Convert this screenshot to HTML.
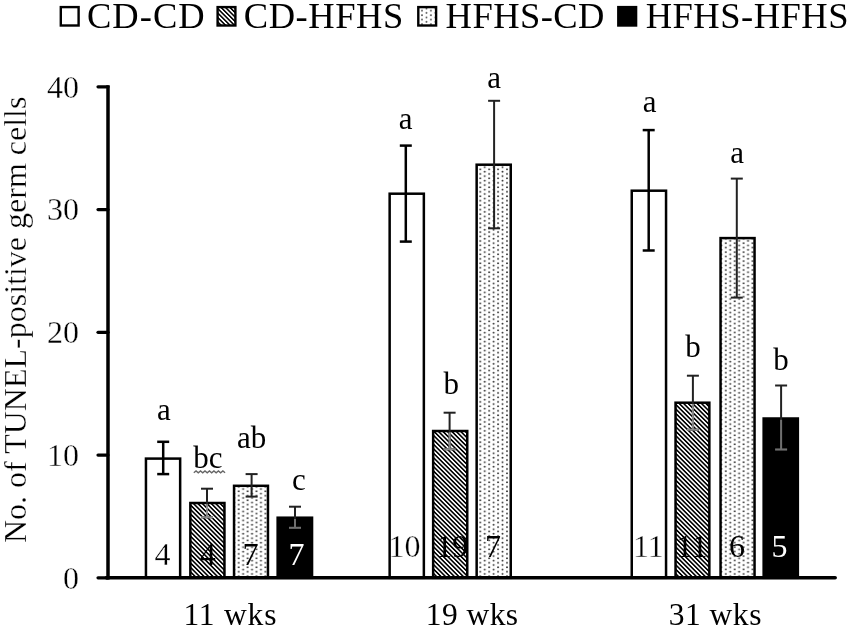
<!DOCTYPE html>
<html><head><meta charset="utf-8"><style>
html,body{margin:0;padding:0;background:#fff;}
svg{display:block;will-change:transform;}
text{font-family:"Liberation Serif",serif;}
.th{stroke:#fff;stroke-width:0.3px;}
</style></head><body>
<svg width="850" height="629" viewBox="0 0 850 629">
<defs>

<pattern id="hatch1" patternUnits="userSpaceOnUse" y="-0.45" width="3.15" height="3.15" patternTransform="rotate(45)"><rect width="3.15" height="3.15" fill="#000"/><rect x="0" y="0" width="3.15" height="1.55" fill="#fff"/></pattern>
<pattern id="hatch2" patternUnits="userSpaceOnUse" y="-1.03" width="3.15" height="3.15" patternTransform="rotate(45)"><rect width="3.15" height="3.15" fill="#000"/><rect x="0" y="0" width="3.15" height="1.55" fill="#fff"/></pattern>
<pattern id="hatch3" patternUnits="userSpaceOnUse" y="1.12" width="3.15" height="3.15" patternTransform="rotate(45)"><rect width="3.15" height="3.15" fill="#000"/><rect x="0" y="0" width="3.15" height="1.55" fill="#fff"/></pattern>
<pattern id="hatchL" patternUnits="userSpaceOnUse" y="0.92" width="3.15" height="3.15" patternTransform="rotate(45)"><rect width="3.15" height="3.15" fill="#000"/><rect x="0" y="0" width="3.15" height="1.6" fill="#fff"/></pattern>
<pattern id="dots" patternUnits="userSpaceOnUse" x="-1.00" y="-1.12" width="8.9" height="4.47"><circle cx="1" cy="1.1175" r="1.0" fill="#333"/><circle cx="5.45" cy="3.3525" r="1.0" fill="#333"/></pattern>
<pattern id="dots1" patternUnits="userSpaceOnUse" x="237.70" y="490.18" width="8.9" height="4.47"><circle cx="1" cy="1.1175" r="1.0" fill="#333"/><circle cx="5.45" cy="3.3525" r="1.0" fill="#333"/></pattern>
<pattern id="dots2" patternUnits="userSpaceOnUse" x="479.30" y="204.08" width="8.9" height="4.47"><circle cx="1" cy="1.1175" r="1.0" fill="#333"/><circle cx="5.45" cy="3.3525" r="1.0" fill="#333"/></pattern>
<pattern id="dots3" patternUnits="userSpaceOnUse" x="724.80" y="250.98" width="8.9" height="4.47"><circle cx="1" cy="1.1175" r="1.0" fill="#333"/><circle cx="5.45" cy="3.3525" r="1.0" fill="#333"/></pattern>
<pattern id="dotsL" patternUnits="userSpaceOnUse" x="421.00" y="9.58" width="8.9" height="4.47"><circle cx="1" cy="1.1175" r="0.95" fill="#444"/><circle cx="5.45" cy="3.3525" r="0.95" fill="#444"/></pattern>
</defs>


<rect x="145.95" y="458.60" width="34.20" height="119.20" fill="#fff" stroke="#000" stroke-width="2.5"/>
<rect x="190.35" y="503.00" width="34.10" height="74.80" fill="url(#hatch1)" stroke="#000" stroke-width="2.5"/>
<rect x="234.05" y="485.80" width="33.90" height="92.00" fill="url(#dots1)" stroke="#000" stroke-width="2.5"/>
<rect x="277.65" y="517.70" width="34.40" height="60.10" fill="#000" stroke="#000" stroke-width="2.5"/>
<rect x="389.65" y="193.70" width="34.20" height="384.10" fill="#fff" stroke="#000" stroke-width="2.5"/>
<rect x="433.15" y="431.00" width="34.10" height="146.80" fill="url(#hatch2)" stroke="#000" stroke-width="2.5"/>
<rect x="476.65" y="164.70" width="34.10" height="413.10" fill="url(#dots2)" stroke="#000" stroke-width="2.5"/>
<rect x="631.75" y="190.70" width="34.30" height="387.10" fill="#fff" stroke="#000" stroke-width="2.5"/>
<rect x="675.55" y="402.70" width="33.80" height="175.10" fill="url(#hatch3)" stroke="#000" stroke-width="2.5"/>
<rect x="720.55" y="238.10" width="34.00" height="339.70" fill="url(#dots3)" stroke="#000" stroke-width="2.5"/>
<rect x="763.65" y="418.50" width="34.20" height="159.30" fill="#000" stroke="#000" stroke-width="2.5"/>
<g stroke="#000" stroke-width="2.5" fill="none"><line x1="163.2" y1="441.8" x2="163.2" y2="474.1"/><line x1="157.2" y1="441.8" x2="169.2" y2="441.8"/><line x1="157.2" y1="474.1" x2="169.2" y2="474.1"/></g>
<g stroke="#222" stroke-width="2.0" fill="none"><line x1="207.0" y1="488.7" x2="207.0" y2="517.3"/><line x1="201.0" y1="488.7" x2="213.0" y2="488.7"/><line x1="201.0" y1="517.3" x2="213.0" y2="517.3"/></g>
<g stroke="#8a8a8a" stroke-width="2.0" fill="none"><line x1="207.0" y1="504.30" x2="207.0" y2="517.3"/><line x1="201.0" y1="517.3" x2="213.0" y2="517.3"/></g>
<g stroke="#222" stroke-width="2.0" fill="none"><line x1="251.6" y1="474.1" x2="251.6" y2="496.6"/><line x1="245.6" y1="474.1" x2="257.6" y2="474.1"/><line x1="245.6" y1="496.6" x2="257.6" y2="496.6"/></g>
<g stroke="#222" stroke-width="2.0" fill="none"><line x1="295.0" y1="506.7" x2="295.0" y2="527.8"/><line x1="289.0" y1="506.7" x2="301.0" y2="506.7"/><line x1="289.0" y1="527.8" x2="301.0" y2="527.8"/></g>
<g stroke="#707070" stroke-width="2.0" fill="none"><line x1="295.0" y1="519.00" x2="295.0" y2="527.8"/><line x1="289.0" y1="527.8" x2="301.0" y2="527.8"/></g>
<g stroke="#000" stroke-width="2.5" fill="none"><line x1="405.8" y1="145.6" x2="405.8" y2="241.6"/><line x1="399.8" y1="145.6" x2="411.8" y2="145.6"/><line x1="399.8" y1="241.6" x2="411.8" y2="241.6"/></g>
<g stroke="#222" stroke-width="2.0" fill="none"><line x1="449.6" y1="412.7" x2="449.6" y2="449.3"/><line x1="443.6" y1="412.7" x2="455.6" y2="412.7"/><line x1="443.6" y1="449.3" x2="455.6" y2="449.3"/></g>
<g stroke="#8a8a8a" stroke-width="2.0" fill="none"><line x1="449.6" y1="432.30" x2="449.6" y2="449.3"/><line x1="443.6" y1="449.3" x2="455.6" y2="449.3"/></g>
<g stroke="#222" stroke-width="2.0" fill="none"><line x1="494.1" y1="100.8" x2="494.1" y2="228.3"/><line x1="488.1" y1="100.8" x2="500.1" y2="100.8"/><line x1="488.1" y1="228.3" x2="500.1" y2="228.3"/></g>
<g stroke="#000" stroke-width="2.5" fill="none"><line x1="648.7" y1="130.1" x2="648.7" y2="250.5"/><line x1="642.7" y1="130.1" x2="654.7" y2="130.1"/><line x1="642.7" y1="250.5" x2="654.7" y2="250.5"/></g>
<g stroke="#222" stroke-width="2.0" fill="none"><line x1="692.9" y1="375.7" x2="692.9" y2="429.7"/><line x1="686.9" y1="375.7" x2="698.9" y2="375.7"/><line x1="686.9" y1="429.7" x2="698.9" y2="429.7"/></g>
<g stroke="#8a8a8a" stroke-width="2.0" fill="none"><line x1="692.9" y1="404.00" x2="692.9" y2="429.7"/><line x1="686.9" y1="429.7" x2="698.9" y2="429.7"/></g>
<g stroke="#222" stroke-width="2.0" fill="none"><line x1="736.8" y1="178.6" x2="736.8" y2="297.6"/><line x1="730.8" y1="178.6" x2="742.8" y2="178.6"/><line x1="730.8" y1="297.6" x2="742.8" y2="297.6"/></g>
<g stroke="#222" stroke-width="2.0" fill="none"><line x1="781.1" y1="385.5" x2="781.1" y2="449.5"/><line x1="775.1" y1="385.5" x2="787.1" y2="385.5"/><line x1="775.1" y1="449.5" x2="787.1" y2="449.5"/></g>
<g stroke="#707070" stroke-width="2.0" fill="none"><line x1="781.1" y1="419.80" x2="781.1" y2="449.5"/><line x1="775.1" y1="449.5" x2="787.1" y2="449.5"/></g>
<line x1="108" y1="85.3" x2="108" y2="579.5" stroke="#000" stroke-width="3.5"/>
<line x1="106.3" y1="577.8" x2="835.2" y2="577.8" stroke="#000" stroke-width="3.5" stroke-linecap="round"/>
<line x1="98" y1="577.80" x2="108" y2="577.80" stroke="#000" stroke-width="3.2" stroke-linecap="round"/>
<text x="79" y="588.60" font-size="32" text-anchor="end" class="th">0</text>
<line x1="98" y1="455.05" x2="108" y2="455.05" stroke="#000" stroke-width="3.2" stroke-linecap="round"/>
<text x="79" y="465.85" font-size="32" text-anchor="end" class="th">10</text>
<line x1="98" y1="332.30" x2="108" y2="332.30" stroke="#000" stroke-width="3.2" stroke-linecap="round"/>
<text x="79" y="343.10" font-size="32" text-anchor="end" class="th">20</text>
<line x1="98" y1="209.55" x2="108" y2="209.55" stroke="#000" stroke-width="3.2" stroke-linecap="round"/>
<text x="79" y="220.35" font-size="32" text-anchor="end" class="th">30</text>
<line x1="98" y1="86.80" x2="108" y2="86.80" stroke="#000" stroke-width="3.2" stroke-linecap="round"/>
<text x="79" y="97.60" font-size="32" text-anchor="end" class="th">40</text>
<text transform="translate(25.7,543) rotate(-90)" font-size="32" class="th">No. of TUNEL-positive germ cells</text>
<text x="183.4" y="624.5" font-size="31.5" textLength="93" lengthAdjust="spacing">11 wks</text>
<text x="425.8" y="624.5" font-size="31.5" textLength="92.3" lengthAdjust="spacing">19 wks</text>
<text x="668.7" y="624.5" font-size="31.5" textLength="92.7" lengthAdjust="spacing">31 wks</text>
<text x="164" y="419.7" font-size="31" text-anchor="middle">a</text>
<text x="208" y="468.4" font-size="31" text-anchor="middle">bc</text>
<text x="251.6" y="448.3" font-size="31" text-anchor="middle">ab</text>
<text x="298.9" y="489.5" font-size="31" text-anchor="middle">c</text>
<text x="405.6" y="128.5" font-size="31" text-anchor="middle">a</text>
<text x="451.2" y="393.5" font-size="31" text-anchor="middle">b</text>
<text x="494.1" y="88.2" font-size="31" text-anchor="middle">a</text>
<text x="649.7" y="112.1" font-size="31" text-anchor="middle">a</text>
<text x="693" y="356.5" font-size="31" text-anchor="middle">b</text>
<text x="737.2" y="163.3" font-size="31" text-anchor="middle">a</text>
<text x="781" y="370.3" font-size="31" text-anchor="middle">b</text>
<path d="M193.80,472.8 L196.04,470.9 L198.27,472.8 L200.51,470.9 L202.74,472.8 L204.98,470.9 L207.21,472.8 L209.45,470.9 L211.68,472.8 L213.92,470.9 L216.15,472.8 L218.39,470.9 L220.62,472.8 L222.86,470.9 L225.09,472.8" stroke="#666" stroke-width="1.3" fill="none"/>
<text x="162.4" y="564.7" font-size="32" text-anchor="middle" fill="#000" class="th">4</text>
<text x="207.8" y="564.7" font-size="32" text-anchor="middle" fill="#000">4</text>
<text x="250.4" y="564.7" font-size="32" text-anchor="middle" fill="#000">7</text>
<text x="296.5" y="564.7" font-size="32" text-anchor="middle" fill="#fff">7</text>
<text x="404.4" y="557.3" font-size="32" text-anchor="middle" fill="#000" class="th">10</text>
<text x="452.2" y="557.3" font-size="32" text-anchor="middle" fill="#000">19</text>
<text x="492.9" y="557.3" font-size="32" text-anchor="middle" fill="#000">7</text>
<text x="648.3" y="557.3" font-size="32" text-anchor="middle" fill="#000" class="th">11</text>
<text x="692" y="557.3" font-size="32" text-anchor="middle" fill="#000">11</text>
<text x="737" y="557.3" font-size="32" text-anchor="middle" fill="#000">6</text>
<text x="779.5" y="557.3" font-size="32" text-anchor="middle" fill="#fff">5</text>
<rect x="60.80" y="7.1" width="17.8" height="18.4" fill="#fff" stroke="#000" stroke-width="2.4"/>
<rect x="217.60" y="7.1" width="17.8" height="18.4" fill="url(#hatchL)" stroke="#000" stroke-width="2.4"/>
<rect x="418.30" y="7.1" width="17.8" height="18.4" fill="url(#dotsL)" stroke="#000" stroke-width="2.4"/>
<rect x="618.30" y="7.1" width="17.8" height="18.4" fill="#000" stroke="#000" stroke-width="2.4"/>
<text x="87" y="28" font-size="36.5" textLength="117.6" lengthAdjust="spacing">CD-CD</text>
<text x="243.8" y="28" font-size="36.5" textLength="159.5" lengthAdjust="spacing">CD-HFHS</text>
<text x="445.6" y="28" font-size="36.5" textLength="158.8" lengthAdjust="spacing">HFHS-CD</text>
<text x="645.7" y="28" font-size="36.5" textLength="202.8" lengthAdjust="spacing">HFHS-HFHS</text>
</svg></body></html>
